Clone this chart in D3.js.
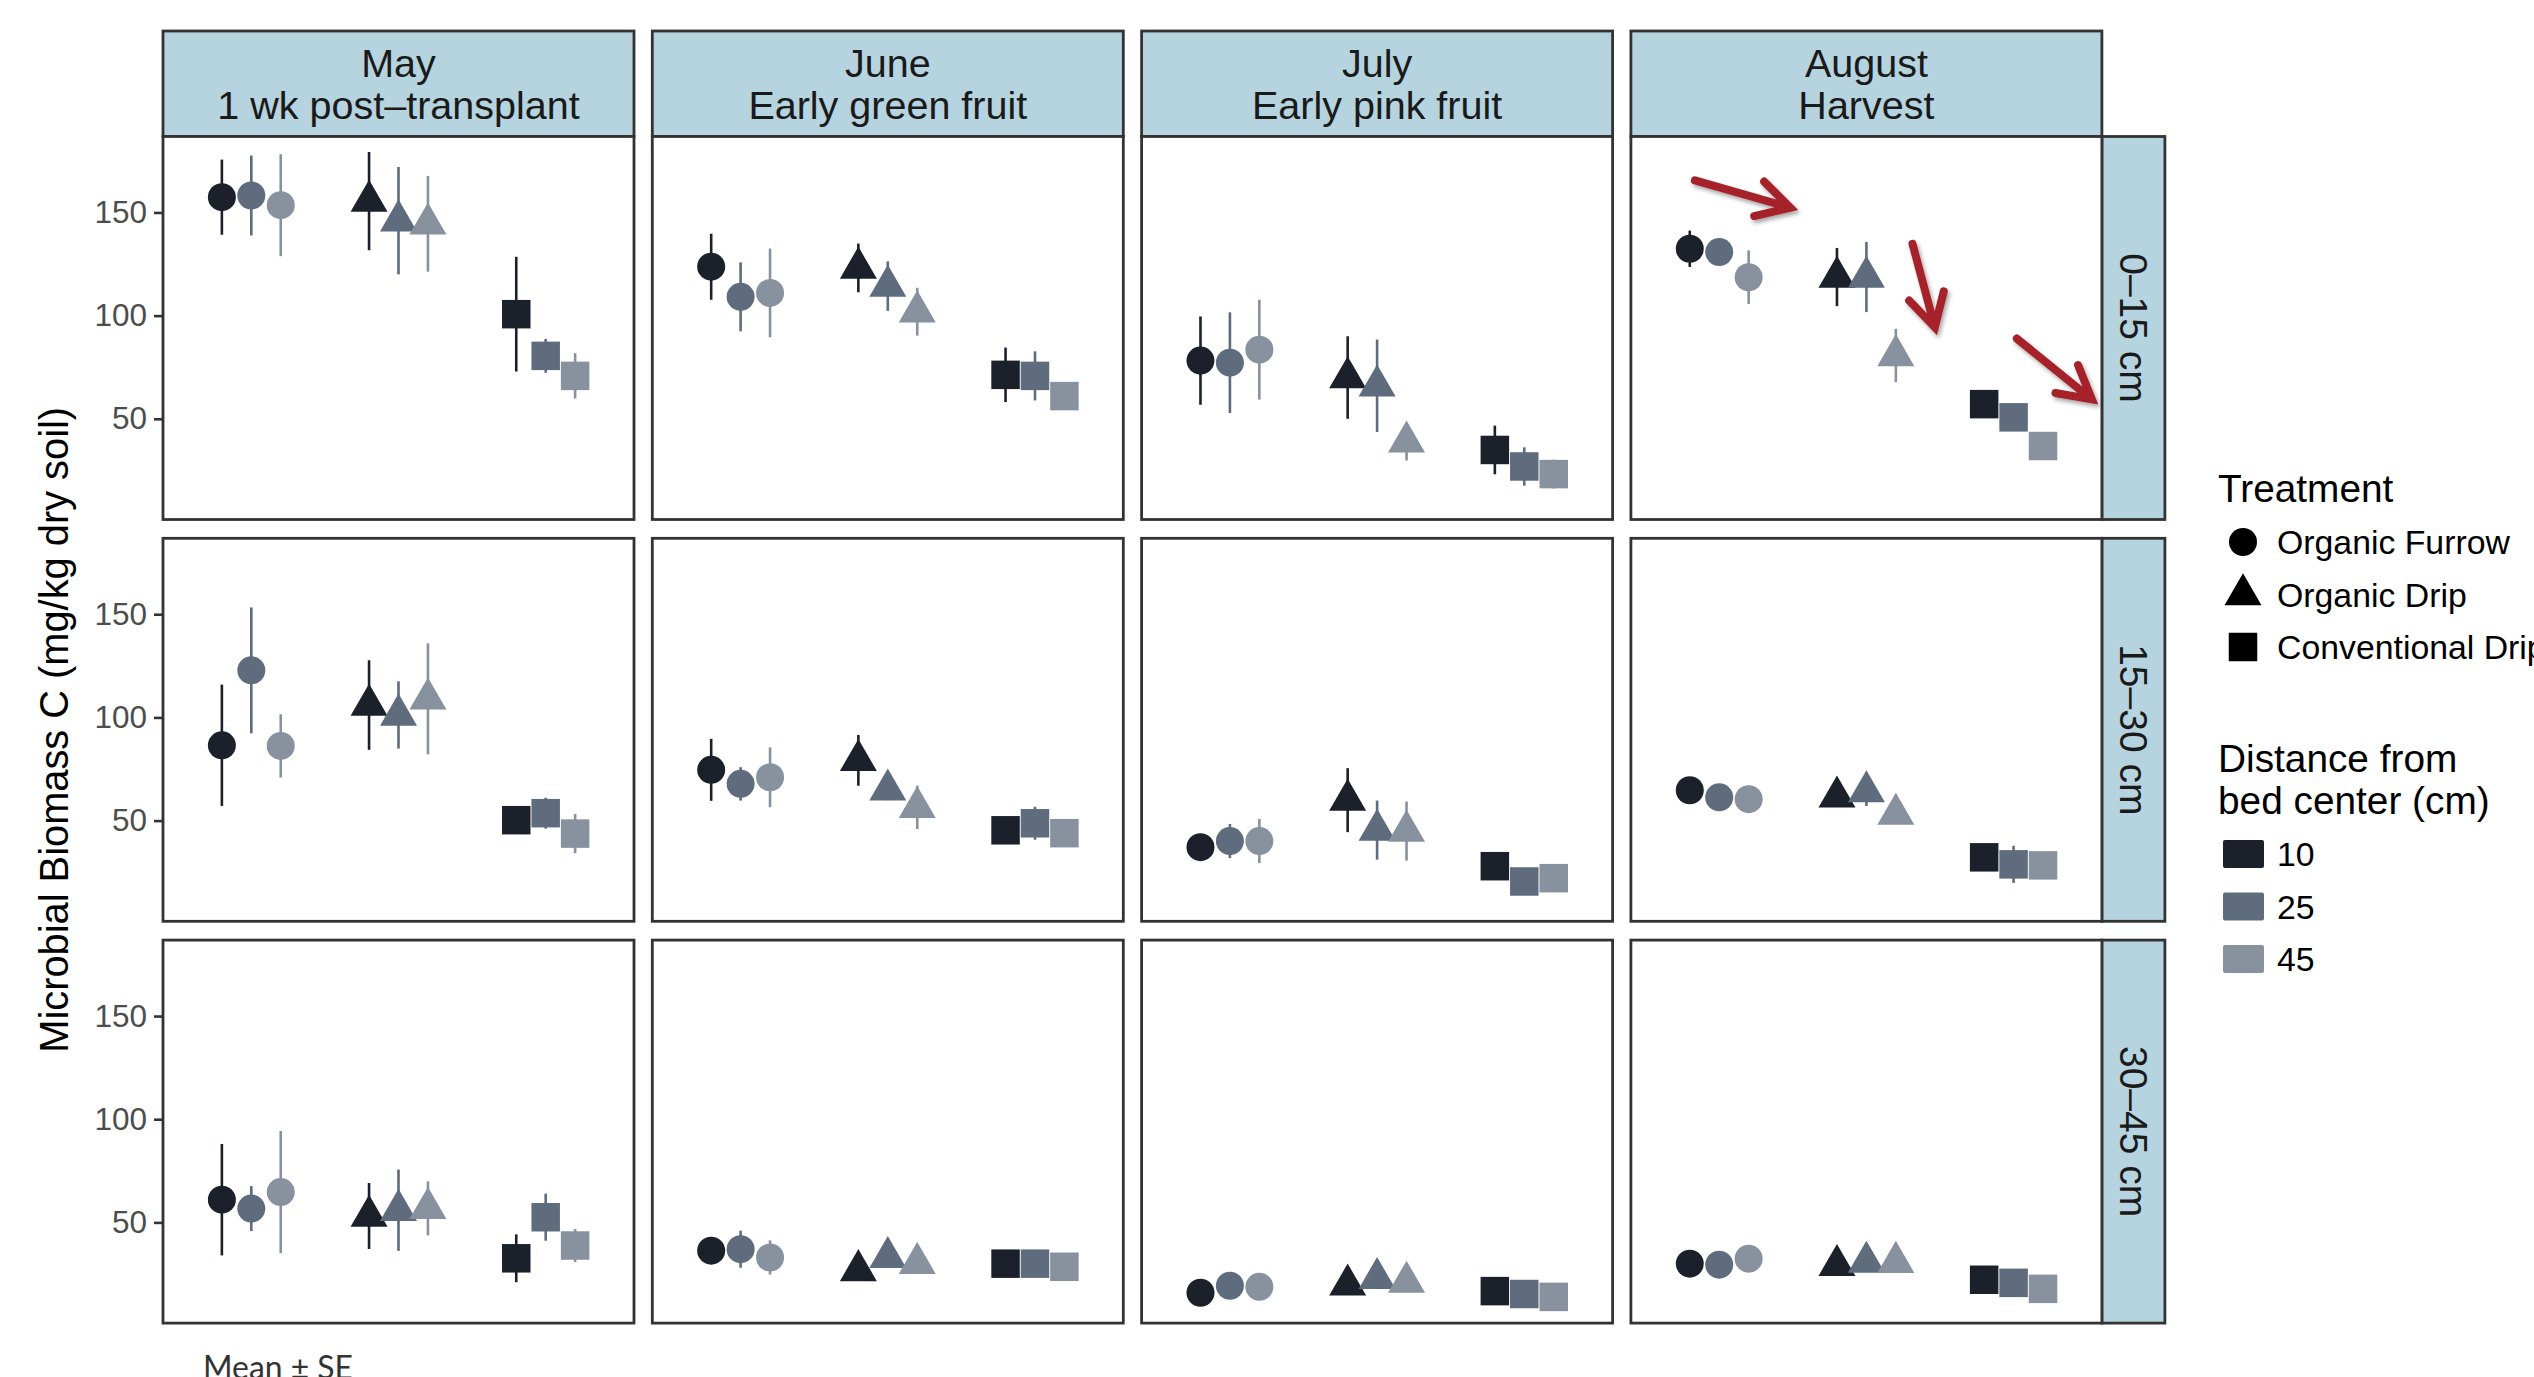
<!DOCTYPE html>
<html>
<head>
<meta charset="utf-8">
<script src="https://cdn.jsdelivr.net/npm/d3@7"></script>
<style>
  html, body { margin: 0; padding: 0; background: #ffffff; }
  svg { display: block; }
</style>
</head>
<body>
<svg id="chart" width="2534" height="1377"></svg>
<script>
// Facets
const months = ["May", "June", "July", "August"];
const stages = ["1 wk post\u2013transplant", "Early green fruit", "Early pink fruit", "Harvest"];
const depths = ["0\u201315 cm", "15\u201330 cm", "30\u201345 cm"];

// Groups inside each panel
const treatments = ["Organic Furrow", "Organic Drip", "Conventional Drip"];
const distances = ["10", "25", "45"];

// Axis ticks
const yTicks = [50, 100, 150];

// Means (mg/kg dry soil), one row per month, nine values per row ordered
// Furrow 10/25/45, Drip 10/25/45, Conventional 10/25/45
const mean0to15 = [
  [157.4, 158.2, 153.5, 155.5, 146.0, 144.5, 100.7, 80.5, 70.8],
  [123.7, 109.1, 111.0, 123.1, 114.3, 101.9, 71.3, 70.8, 61.0],
  [78.2, 77.2, 83.5, 70.0, 66.0, 38.8, 34.9, 26.9, 23.2],
  [132.4, 130.8, 118.6, 118.7, 118.7, 80.7, 57.1, 50.7, 36.8]
];
const se0to15 = [
  [18.2, 19.4, 24.7, 23.8, 26.0, 23.2, 27.8, 8.2, 11.0],
  [16.0, 16.7, 21.5, 11.8, 12.0, 11.6, 13.2, 11.9, 3.0],
  [21.4, 24.4, 24.2, 20.0, 22.4, 9.0, 11.8, 9.3, 7.0],
  [8.8, 5.0, 13.0, 14.1, 17.0, 12.9, 3.0, 3.0, 3.0]
];
const mean15to30 = [
  [86.5, 122.8, 86.2, 106.0, 101.2, 109.0, 50.2, 53.6, 43.7],
  [74.6, 67.8, 71.0, 79.2, 64.9, 56.4, 45.3, 48.7, 43.9],
  [37.1, 40.1, 40.1, 59.9, 45.4, 44.9, 27.9, 20.5, 22.1],
  [64.7, 61.3, 60.4, 61.5, 64.1, 53.2, 32.2, 28.8, 28.3]
];
const se15to30 = [
  [29.4, 30.5, 15.3, 21.7, 16.3, 26.9, 3.0, 7.5, 9.5],
  [15.0, 8.1, 14.5, 12.3, 5.0, 10.5, 3.0, 8.0, 2.0],
  [2.0, 8.3, 10.7, 15.5, 14.3, 14.3, 2.0, 2.0, 2.0],
  [3.0, 3.0, 3.0, 3.0, 7.0, 3.0, 2.0, 9.0, 2.0]
];
const mean30to45 = [
  [61.0, 56.7, 64.7, 53.1, 55.9, 56.8, 32.6, 52.5, 38.8],
  [36.3, 37.0, 33.0, 26.7, 33.1, 30.2, 30.0, 30.0, 28.5],
  [15.9, 19.3, 18.8, 19.7, 22.9, 21.1, 16.7, 15.3, 13.9],
  [30.0, 29.5, 32.4, 29.2, 30.8, 30.7, 22.2, 20.7, 17.8]
];
const se30to45 = [
  [27.0, 10.9, 29.6, 16.0, 19.7, 13.1, 11.6, 11.4, 8.0],
  [3.0, 9.0, 8.3, 2.0, 3.0, 2.0, 3.0, 3.0, 2.0],
  [2.0, 2.0, 2.0, 3.0, 2.0, 4.0, 2.0, 2.0, 2.0],
  [2.0, 2.0, 2.0, 2.0, 2.0, 4.0, 2.0, 2.0, 2.0]
];

// Highlight arrows on the August / 0–15 cm panel, in data units
// (x: treatment position 1..3, y: biomass)
const arrowX0 = [0.835, 2.313, 3.022];
const arrowY0 = [165.5, 134.8, 88.9];
const arrowX1 = [1.483, 2.465, 3.532];
const arrowY1 = [152.3, 94.4, 59.4];

const meansByDepth = [mean0to15, mean15to30, mean30to45];
const seByDepth = [se0to15, se15to30, se30to45];

// ---- layout ----
const colX0 = 163, colStep = 489.3, panelW = 471;
const rowY0 = 136.5, rowStep = 401.8, panelH = 383;
const stripTop = 31;
const rStripW = 63;

const FONT = "'Liberation Sans', Arial, Helvetica, sans-serif";
const ink = "#1a1a1a";
const frame = "#333333";
const stripFill = "#b5d4df";
const arrowRed = "#a6232b";

const colorScale = d3.scaleOrdinal().domain(distances).range(["#1b202a", "#5e6c7d", "#87929e"]);
const shapeScale = d3.scaleOrdinal().domain(treatments)
  .range([d3.symbolCircle, d3.symbolTriangle, d3.symbolSquare]);
const sizeScale = d3.scaleOrdinal().domain(treatments).range([Math.PI * 14 * 14, 593, 28.5 * 28.5]);

const x = d3.scaleLinear().domain([0.4, 3.6]).range([0, panelW]);
const dodge = d3.scalePoint().domain(distances).range([-0.2, 0.2]);
const y = d3.scaleLinear().domain([1.2, 186.8]).range([panelH, 0]);

const svg = d3.select("#chart");

const defs = svg.append("defs");
const shadow = defs.append("filter").attr("id", "arrowShadow")
  .attr("x", "-20%").attr("y", "-20%").attr("width", "140%").attr("height", "140%");
shadow.append("feDropShadow").attr("dx", 2).attr("dy", 3).attr("stdDeviation", 2)
  .attr("flood-color", "#000").attr("flood-opacity", 0.35);

// ---- column strips ----
months.forEach((m, ci) => {
  const gx = colX0 + ci * colStep;
  const g = svg.append("g").attr("transform", `translate(${gx},${stripTop})`);
  g.append("rect").attr("width", panelW).attr("height", rowY0 - stripTop)
    .attr("fill", stripFill).attr("stroke", frame).attr("stroke-width", 2.8);
  const t = g.append("text").attr("text-anchor", "middle")
    .attr("font-family", FONT).attr("font-size", 39.5).attr("fill", ink);
  t.append("tspan").attr("x", panelW / 2).attr("y", 45.5).text(m);
  t.append("tspan").attr("x", panelW / 2).attr("y", 88).text(stages[ci]);
});

// ---- row strips ----
depths.forEach((d, ri) => {
  const gy = rowY0 + ri * rowStep;
  const gx = colX0 + 3 * colStep + panelW;
  const g = svg.append("g").attr("transform", `translate(${gx},${gy})`);
  g.append("rect").attr("width", rStripW).attr("height", panelH)
    .attr("fill", stripFill).attr("stroke", frame).attr("stroke-width", 2.8);
  g.append("text")
    .attr("transform", `translate(${rStripW / 2},${panelH / 2}) rotate(90)`)
    .attr("text-anchor", "middle").attr("dominant-baseline", "central")
    .attr("font-family", FONT).attr("font-size", 39).attr("fill", ink)
    .text(d);
});

// ---- panels ----
depths.forEach((d, ri) => {
  months.forEach((m, ci) => {
    const g = svg.append("g")
      .attr("transform", `translate(${colX0 + ci * colStep},${rowY0 + ri * rowStep})`);
    g.append("rect").attr("width", panelW).attr("height", panelH)
      .attr("fill", "#ffffff");

    if (ci === 0) {
      const ax = g.append("g").call(d3.axisLeft(y).tickValues(yTicks).tickSize(9).tickPadding(7));
      ax.select(".domain").remove();
      ax.selectAll(".tick line").attr("stroke", frame).attr("stroke-width", 2.6);
      ax.selectAll(".tick text").attr("font-family", FONT).attr("font-size", 31.5)
        .attr("fill", "#4d4d4d");
    }

    const means = meansByDepth[ri][ci];
    const ses = seByDepth[ri][ci];
    const pts = [];
    treatments.forEach((t, ti) => {
      distances.forEach((dist, di) => {
        const k = ti * 3 + di;
        pts.push({ t, ti, dist, mean: means[k], se: ses[k] });
      });
    });

    const pg = g.selectAll("g.pt").data(pts).join("g").attr("class", "pt")
      .attr("transform", p => `translate(${x(p.ti + 1 + dodge(p.dist))},0)`);
    pg.append("line")
      .attr("x1", 0).attr("x2", 0)
      .attr("y1", p => y(p.mean - p.se)).attr("y2", p => y(p.mean + p.se))
      .attr("stroke", p => colorScale(p.dist)).attr("stroke-width", 2.6);
    pg.append("path")
      .attr("transform", p => `translate(0,${y(p.mean)})`)
      .attr("d", p => d3.symbol().type(shapeScale(p.t)).size(sizeScale(p.t))())
      .attr("fill", p => colorScale(p.dist));

    g.append("rect").attr("width", panelW).attr("height", panelH)
      .attr("fill", "none").attr("stroke", frame).attr("stroke-width", 2.8);

    // emphasis arrows on the harvest, top-layer panel
    if (ri === 0 && ci === 3) {
      const ag = g.append("g").attr("filter", "url(#arrowShadow)");
      arrowX0.forEach((_, i) => {
        const sx = x(arrowX0[i]), sy = y(arrowY0[i]);
        const tx = x(arrowX1[i]), ty = y(arrowY1[i]);
        const ang = Math.atan2(ty - sy, tx - sx);
        const len = 37, spread = 29 * Math.PI / 180;
        const a1 = [tx - len * Math.cos(ang - spread), ty - len * Math.sin(ang - spread)];
        const a2 = [tx - len * Math.cos(ang + spread), ty - len * Math.sin(ang + spread)];
        const p = d3.path();
        p.moveTo(sx, sy); p.lineTo(tx - 3 * Math.cos(ang), ty - 3 * Math.sin(ang));
        p.moveTo(a1[0], a1[1]); p.lineTo(tx, ty); p.lineTo(a2[0], a2[1]);
        ag.append("path").attr("d", p.toString())
          .attr("fill", "none").attr("stroke", arrowRed).attr("stroke-width", 8)
          .attr("stroke-linejoin", "miter").attr("stroke-miterlimit", 10)
          .attr("stroke-linecap", "round");
      });
    }
  });
});

// ---- y axis title ----
svg.append("text")
  .attr("transform", `translate(54,${rowY0 + (2 * rowStep + panelH) / 2}) rotate(-90)`)
  .attr("text-anchor", "middle").attr("dominant-baseline", "central")
  .attr("font-family", FONT).attr("font-size", 39.8).attr("fill", "#000")
  .text("Microbial Biomass C (mg/kg dry soil)");

// ---- legends ----
const lx = 2218;
const leg = svg.append("g").attr("font-family", FONT).attr("fill", "#000");
leg.append("text").attr("x", lx).attr("y", 502).attr("font-size", 38.8).text("Treatment");
const legRowY = d3.scalePoint().domain(treatments).range([542, 647]);
treatments.forEach(t => {
  leg.append("path")
    .attr("transform", `translate(${lx + 25},${legRowY(t)})`)
    .attr("d", d3.symbol().type(shapeScale(t)).size(sizeScale(t))())
    .attr("fill", "#000");
  leg.append("text").attr("x", lx + 59).attr("y", legRowY(t))
    .attr("dominant-baseline", "central").attr("font-size", 33.8).text(t);
});

leg.append("text").attr("x", lx).attr("y", 772).attr("font-size", 38.8).text("Distance from");
leg.append("text").attr("x", lx).attr("y", 814).attr("font-size", 38.8).text("bed center (cm)");
const legColY = d3.scalePoint().domain(distances).range([854, 959]);
distances.forEach(dst => {
  leg.append("rect").attr("x", lx + 5).attr("y", legColY(dst) - 14)
    .attr("width", 41).attr("height", 28).attr("rx", 2)
    .attr("fill", colorScale(dst));
  leg.append("text").attr("x", lx + 59).attr("y", legColY(dst))
    .attr("dominant-baseline", "central").attr("font-size", 33.8).text(dst);
});

// ---- caption ----
svg.append("text").attr("x", 203).attr("y", 1379)
  .attr("font-family", "Lato, 'Open Sans', sans-serif").attr("font-size", 33)
  .attr("fill", "#333")
  .attr("textLength", 150).attr("lengthAdjust", "spacingAndGlyphs")
  .text("Mean \u00b1 SE");
</script>
</body>
</html>
